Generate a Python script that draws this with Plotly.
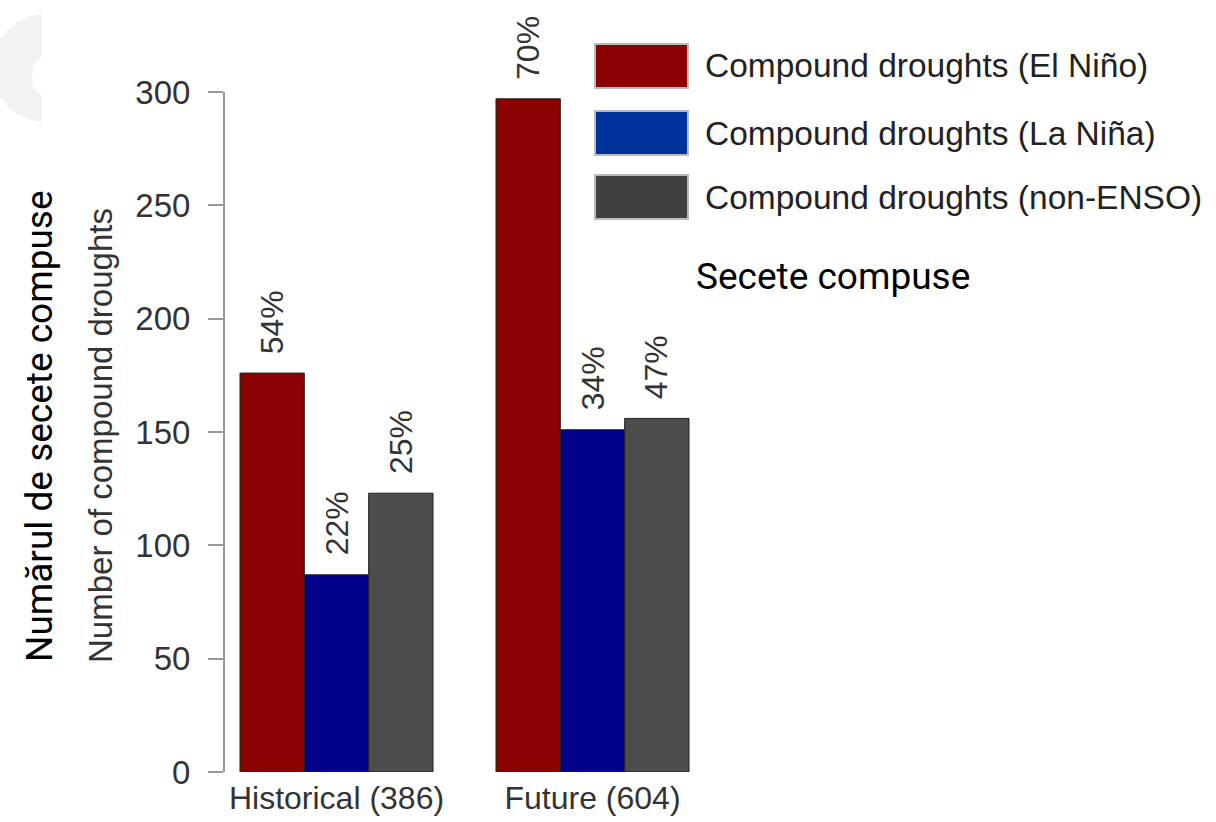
import plotly.graph_objects as go

categories = ["Historical (386)", "Future (604)"]
series_names = ["Compound droughts (El Niño)", "Compound droughts (La Niña)", "Compound droughts (non-ENSO)"]
el_nino = [176, 297]
la_nina = [87, 151]
non_enso = [123, 156]
pct_el_nino = ["54%", "70%"]
pct_la_nina = ["22%", "34%"]
pct_non_enso = ["25%", "47%"]
y_ticks = [0, 50, 100, 150, 200, 250, 300]

bar_colors = ["#8b0000", "#00008b", "#4d4d4d"]
legend_colors = ["#8b0000", "#003399", "#404040"]

W, H = 1216, 822
Lr, Tr, Br, Rr = 225, 92, 772, 700  # plot box in page pixels
L, T = Lr, Tr
B = H - Br
R = W - Rr
plot_w = W - L - R
plot_h = H - T - B
unit = 256.0
x0 = -(336.5 - Lr) / unit
x1 = x0 + plot_w / unit


def px(x):
    return (x - Lr) / plot_w


def py(y):
    return 1 - (y - Tr) / plot_h


xpos = list(range(len(categories)))
all_vals = [el_nino, la_nina, non_enso]
all_pcts = [pct_el_nino, pct_la_nina, pct_non_enso]

fig = go.Figure()
for name, vals, col in zip(series_names, all_vals, bar_colors):
    fig.add_trace(go.Bar(
        x=xpos, y=vals, name=name,
        marker=dict(color=col, line=dict(color="#222222", width=1)),
        showlegend=False,
    ))

annotations = []
bw = 0.754 / 3
for si, (vals, pcts) in enumerate(zip(all_vals, all_pcts)):
    off = (si - 1) * bw
    for ci, (v, p) in enumerate(zip(vals, pcts)):
        annotations.append(dict(
            x=xpos[ci] + off, y=v, xref="x", yref="y", text=p, showarrow=False,
            textangle=-90, xanchor="center", yanchor="bottom", yshift=17,
            font=dict(family="Liberation Sans, Arial", size=32, color="#333333"),
        ))

# axis titles
annotations.append(dict(
    x=px(100), y=py(436), xref="paper", yref="paper", text="Number of compound droughts",
    showarrow=False, textangle=-90, xanchor="center", yanchor="middle",
    font=dict(family="Liberation Sans, Arial", size=33, color="#333333"),
))
annotations.append(dict(
    x=px(39), y=py(426), xref="paper", yref="paper", text="Numărul de secete compuse",
    showarrow=False, textangle=-90, xanchor="center", yanchor="middle",
    font=dict(family="Roboto", size=37, color="#000000"),
))
annotations.append(dict(
    x=px(694), y=py(277), xref="paper", yref="paper", text="Secete compuse", showarrow=False,
    xanchor="left", yanchor="middle", font=dict(family="Roboto", size=37, color="#000000"),
))

shapes = []
# faint watermark in the top-left corner
shapes.append(dict(type="circle", xref="paper", yref="paper", layer="below",
                   x0=px(-8), x1=px(100), y0=py(122), y1=py(14),
                   fillcolor="#f0f2f5", line=dict(width=0)))
shapes.append(dict(type="circle", xref="paper", yref="paper", layer="below",
                   x0=px(32), x1=px(76), y0=py(100), y1=py(52),
                   fillcolor="#ffffff", line=dict(width=0)))
shapes.append(dict(type="rect", xref="paper", yref="paper", layer="below",
                   x0=px(42), x1=px(110), y0=py(130), y1=py(5),
                   fillcolor="#ffffff", line=dict(width=0)))

# custom legend
leg_y = [66, 133, 197]
for name, col, yc in zip(series_names, legend_colors, leg_y):
    shapes.append(dict(
        type="rect", xref="paper", yref="paper",
        x0=px(595), x1=px(688), y0=py(yc + 22), y1=py(yc - 22),
        fillcolor=col, line=dict(color="#bbbbbb", width=2),
    ))
    annotations.append(dict(
        x=px(703), y=py(yc), xref="paper", yref="paper",
        text=name, showarrow=False, xanchor="left", yanchor="middle",
        font=dict(family="Liberation Sans, Arial", size=33.5, color="#222222"),
    ))

fig.update_layout(
    width=W, height=H,
    margin=dict(l=L, r=R, t=T, b=B, autoexpand=False),
    paper_bgcolor="white", plot_bgcolor="white",
    barmode="group", bargap=0.246, bargroupgap=0,
    annotations=annotations, shapes=shapes,
    showlegend=False,
    font=dict(family="Liberation Sans, Arial", color="#333333"),
)
fig.update_xaxes(
    range=[x0, x1], tickvals=xpos, ticktext=categories, showline=False, showgrid=False,
    zeroline=False, ticks="", tickfont=dict(size=32, color="#333333"), ticklabelstandoff=4,
    automargin=False,
)
fig.update_yaxes(
    range=[0, 300], tickvals=y_ticks, showline=True, linecolor="#999999", linewidth=2,
    ticks="outside", ticklen=15, tickcolor="#999999", tickwidth=2, showgrid=False,
    zeroline=False, tickfont=dict(size=33, color="#333333"), ticklabelstandoff=11,
    automargin=False,
)

fig.write_html(
    "out.html",
    config={"displayModeBar": False},
    post_script="document.body.style.margin='0';document.body.style.overflow='hidden';",
)
